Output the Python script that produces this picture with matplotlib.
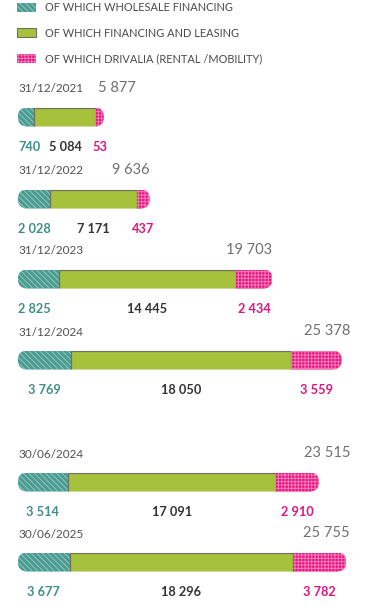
import matplotlib.pyplot as plt
from matplotlib.patches import FancyBboxPatch, Patch

plt.rcParams["font.family"] = ["Lato", "DejaVu Sans"]
plt.rcParams["hatch.linewidth"] = 0.7

dates = ["31/12/2021", "31/12/2022", "31/12/2023", "31/12/2024", "30/06/2024", "30/06/2025"]
wholesale = [740, 2028, 2825, 3769, 3514, 3677]
financing = [5084, 7171, 14445, 18050, 17091, 18296]
drivalia = [53, 437, 2434, 3559, 2910, 3782]
totals = [5877, 9636, 19703, 25378, 23515, 25755]

legend_labels = [
    "OF WHICH WHOLESALE FINANCING",
    "OF WHICH FINANCING AND LEASING",
    "OF WHICH DRIVALIA (RENTAL /MOBILITY)",
]

TEAL, TEAL_HATCH = "#4b9b91", "#8fc9c1"
GREEN, GREEN_EDGE = "#a6c23c", "#6f7060"
PINK, PINK_HATCH = "#e5157f", "#f87cba"
TEAL_PAT, PINK_PAT = "\\\\\\\\\\\\", "+++++"

# vertical layout in pixels (top = 0)
row_top = [89, 171, 251, 332, 454, 534]
bar_offset = 28
label_offset = 58
bar_h = 19

UNITS_PER_PX = 82.0
CAP = 590  # rounded cap padding beyond the value range
X0 = -7 * UNITS_PER_PX  # left text column
TOTAL_RIGHT = 325 * UNITS_PER_PX  # right column for the larger totals
TOTAL_LEFT_MIN = 73 * UNITS_PER_PX


def fmt(v):
    return f"{v:,}".replace(",", " ")


fig = plt.figure(figsize=(3.8, 6.07), dpi=100)
ax = fig.add_axes([0, 0, 1, 1])
ax.set_xlim(-25 * UNITS_PER_PX, (380 - 25) * UNITS_PER_PX)
ax.set_ylim(607, 0)
ax.axis("off")

# legend
handles = [
    Patch(facecolor=TEAL, edgecolor=TEAL_HATCH, hatch=TEAL_PAT, linewidth=0),
    Patch(facecolor=GREEN, edgecolor=GREEN_EDGE, linewidth=0.8),
    Patch(facecolor=PINK, edgecolor=PINK_HATCH, hatch=PINK_PAT, linewidth=0),
]
fig.legend(
    handles, legend_labels, loc="upper left", bbox_to_anchor=(0.045, 0.996),
    frameon=False, fontsize=7.9, labelcolor="#4a4a4a", handlelength=1.75,
    handleheight=0.9, handletextpad=0.8, labelspacing=1.3,
    borderpad=0, borderaxespad=0,
)

for i, d in enumerate(dates):
    top = row_top[i]
    yc = top + bar_offset
    w, f, r, t = wholesale[i], financing[i], drivalia[i], totals[i]

    ax.text(X0, top, d, fontsize=8.5, color="#505050", va="center", ha="left")
    if i >= 3:
        ax.text(TOTAL_RIGHT, top - 1, fmt(t), fontsize=10.5, color="#707070",
                va="center", ha="right")
    elif t + CAP < 9000:
        ax.text(TOTAL_LEFT_MIN, top - 1, fmt(t), fontsize=10.5, color="#707070",
                va="center", ha="left")
    else:
        ax.text(t + CAP, top - 1, fmt(t), fontsize=10.5, color="#707070",
                va="center", ha="right")

    outline = FancyBboxPatch(
        (-CAP, yc - bar_h / 2), t + 2 * CAP, bar_h,
        boxstyle=f"round,pad=0,rounding_size={bar_h / 2 * UNITS_PER_PX}",
        mutation_aspect=1 / UNITS_PER_PX, facecolor="none", edgecolor="none",
    )
    ax.add_patch(outline)

    segs = [
        ax.barh(yc, w + CAP, left=-CAP, height=bar_h, color=TEAL,
                edgecolor=TEAL_HATCH, hatch=TEAL_PAT, linewidth=0),
        ax.barh(yc, f, left=w, height=bar_h, color=GREEN,
                edgecolor=GREEN_EDGE, linewidth=0.9),
        ax.barh(yc, r + CAP, left=w + f, height=bar_h, color=PINK,
                edgecolor=PINK_HATCH, hatch=PINK_PAT, linewidth=0),
    ]
    for s in segs:
        for p in s:
            p.set_clip_path(outline)

    ly = top + label_offset
    if w < 3000:
        ax.text(X0, ly, fmt(w), fontsize=9.2, fontweight="bold",
                color="#3f8f86", va="center", ha="left")
    else:
        ax.text(w / 2 - CAP / 2, ly, fmt(w), fontsize=9.2, fontweight="bold",
                color="#3f8f86", va="center", ha="center")
    ax.text(w + f / 2, ly, fmt(f), fontsize=9.2, fontweight="bold",
            color="#333333", va="center", ha="center")
    ax.text(w + f + (r + CAP) / 2, ly, fmt(r), fontsize=9.2, fontweight="bold",
            color="#e0147c", va="center", ha="center")

fig.savefig("out.png", dpi=100)
plt.close(fig)
